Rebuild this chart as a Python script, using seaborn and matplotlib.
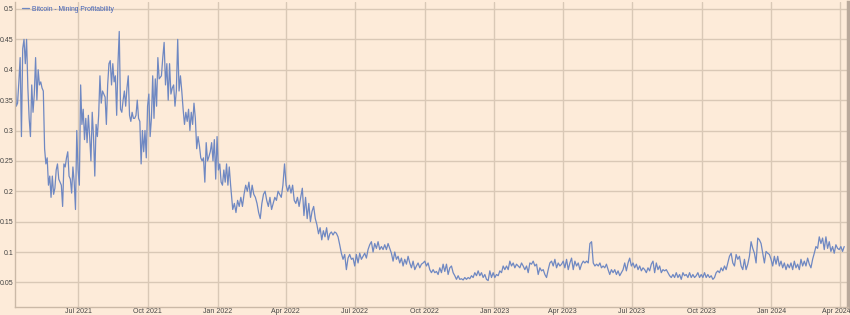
import numpy as np
import pandas as pd
import matplotlib
matplotlib.use("Agg")
import matplotlib.pyplot as plt
import matplotlib.dates as mdates
import matplotlib.transforms as mtransforms
import seaborn as sns

# ---- data: Bitcoin mining profitability ----
# each segment: values evenly spread between its start and end date
seg_a_dates = ("2021-04-09", "2021-10-16")
seg_a = [0.41, 0.34, 0.345, 0.38, 0.42, 0.29, 0.435, 0.45, 0.41, 0.45, 0.37, 0.32, 0.29,
         0.375, 0.33, 0.36, 0.42, 0.35, 0.40, 0.375, 0.38, 0.37, 0.365, 0.27, 0.245, 0.255,
         0.21, 0.225, 0.19, 0.225, 0.195, 0.205, 0.235, 0.245, 0.22, 0.215, 0.21, 0.175,
         0.245, 0.24, 0.255, 0.265, 0.225, 0.22, 0.197, 0.24, 0.215, 0.17, 0.30, 0.235,
         0.21, 0.375, 0.31, 0.335, 0.285, 0.32, 0.28, 0.325, 0.29, 0.25, 0.33, 0.29, 0.225,
         0.31, 0.29, 0.325, 0.39, 0.345, 0.365, 0.36, 0.355, 0.31, 0.375, 0.41, 0.415,
         0.375, 0.41, 0.38, 0.39, 0.325, 0.41, 0.463, 0.335, 0.33, 0.35, 0.365, 0.34, 0.37,
         0.39, 0.325, 0.315, 0.33, 0.32, 0.32, 0.325, 0.35, 0.32, 0.315, 0.245, 0.30, 0.265,
         0.30, 0.255, 0.34, 0.36, 0.29, 0.32, 0.39, 0.32, 0.385, 0.34, 0.42, 0.385]

seg_b1_dates = ("2021-10-19", "2022-01-20")
seg_b1 = [0.39, 0.42, 0.445, 0.375, 0.41, 0.35, 0.41, 0.36, 0.37, 0.375, 0.34, 0.365, 0.45,
          0.365, 0.39, 0.365, 0.335, 0.31, 0.33, 0.315, 0.335, 0.30, 0.33, 0.31, 0.345,
          0.32, 0.27, 0.29, 0.275, 0.255, 0.25, 0.255, 0.215, 0.28, 0.25, 0.257, 0.265,
          0.28, 0.25, 0.285, 0.22, 0.29, 0.235, 0.245, 0.215, 0.21, 0.235, 0.215, 0.245,
          0.21, 0.24, 0.21, 0.185]

seg_b2_dates = ("2022-01-21", "2022-05-29")
seg_b2 = [0.17, 0.18, 0.165, 0.185, 0.175, 0.19, 0.175, 0.195, 0.21, 0.20, 0.215, 0.19,
          0.21, 0.195, 0.19, 0.18, 0.165, 0.155, 0.18, 0.195, 0.20, 0.185, 0.175, 0.19,
          0.17, 0.18, 0.19, 0.185, 0.20, 0.195, 0.19, 0.21, 0.245, 0.21, 0.20, 0.21, 0.197,
          0.21, 0.185, 0.18, 0.19, 0.175, 0.19, 0.205, 0.16, 0.19, 0.155, 0.18, 0.15,
          0.167, 0.175, 0.155, 0.145, 0.13, 0.14, 0.12, 0.135, 0.125, 0.14, 0.12, 0.13]

seg_c_dates = ("2022-05-31", "2023-05-20")
seg_c = [0.133, 0.128, 0.133, 0.131, 0.125, 0.112, 0.098, 0.088, 0.096, 0.071, 0.090,
         0.096, 0.088, 0.090, 0.077, 0.096, 0.082, 0.098, 0.088, 0.093, 0.098, 0.090,
         0.104, 0.112, 0.117, 0.100, 0.114, 0.106, 0.117, 0.104, 0.109, 0.104, 0.112,
         0.104, 0.114, 0.106, 0.098, 0.085, 0.100, 0.088, 0.093, 0.082, 0.090, 0.077,
         0.088, 0.080, 0.093, 0.082, 0.074, 0.085, 0.071, 0.077, 0.082, 0.074, 0.080,
         0.082, 0.085, 0.077, 0.082, 0.071, 0.066, 0.071, 0.066, 0.068, 0.063, 0.074,
         0.066, 0.080, 0.068, 0.080, 0.063, 0.074, 0.077, 0.066, 0.061, 0.055, 0.061,
         0.055, 0.056, 0.054, 0.058, 0.055, 0.058, 0.056, 0.061, 0.058, 0.066, 0.061,
         0.069, 0.061, 0.066, 0.058, 0.063, 0.055, 0.053, 0.069, 0.058, 0.066, 0.058,
         0.063, 0.061, 0.069, 0.066, 0.077, 0.071, 0.077, 0.071, 0.085, 0.077, 0.082,
         0.074, 0.080, 0.077, 0.074, 0.082, 0.077, 0.071, 0.077, 0.066, 0.082, 0.080,
         0.085, 0.077, 0.080, 0.063, 0.074, 0.069, 0.071, 0.063, 0.058, 0.071, 0.082,
         0.085, 0.077, 0.088, 0.074, 0.082, 0.077, 0.080, 0.085, 0.074, 0.088, 0.071,
         0.082, 0.090, 0.071, 0.085, 0.077, 0.082, 0.071, 0.080, 0.085, 0.082, 0.085,
         0.082, 0.114, 0.117, 0.082, 0.077, 0.080, 0.077, 0.082]

seg_d_dates = ("2023-05-22", "2024-04-06")
seg_d = [0.074, 0.077, 0.074, 0.080, 0.071, 0.063, 0.071, 0.066, 0.071, 0.063, 0.069,
         0.061, 0.066, 0.071, 0.082, 0.069, 0.082, 0.090, 0.077, 0.082, 0.074, 0.080,
         0.071, 0.077, 0.069, 0.074, 0.071, 0.066, 0.074, 0.069, 0.080, 0.085, 0.066,
         0.082, 0.071, 0.077, 0.066, 0.071, 0.069, 0.071, 0.066, 0.061, 0.058, 0.063,
         0.058, 0.066, 0.058, 0.063, 0.055, 0.066, 0.061, 0.063, 0.058, 0.066, 0.058,
         0.063, 0.058, 0.061, 0.066, 0.058, 0.063, 0.058, 0.066, 0.058, 0.063, 0.058,
         0.061, 0.055, 0.058, 0.066, 0.069, 0.066, 0.074, 0.069, 0.077, 0.071, 0.082,
         0.093, 0.098, 0.082, 0.077, 0.096, 0.088, 0.093, 0.077, 0.071, 0.088, 0.071,
         0.080, 0.093, 0.117, 0.106, 0.098, 0.082, 0.123, 0.120, 0.114, 0.098, 0.082,
         0.101, 0.098, 0.096, 0.088, 0.077, 0.093, 0.080, 0.093, 0.077, 0.085, 0.074,
         0.082, 0.071, 0.080, 0.074, 0.082, 0.071, 0.085, 0.074, 0.080, 0.071, 0.088,
         0.077, 0.085, 0.077, 0.090, 0.080, 0.074, 0.088, 0.098, 0.109, 0.106, 0.125,
         0.114, 0.123, 0.104, 0.125, 0.106, 0.117, 0.101, 0.109, 0.098, 0.112, 0.106,
         0.104, 0.109, 0.101, 0.109]

series_label = "Bitcoin - Mining Profitability"
x_tick_dates = ["2021-07-01", "2021-10-01", "2022-01-01", "2022-04-01", "2022-07-01",
                "2022-10-01", "2023-01-01", "2023-04-01", "2023-07-01", "2023-10-01",
                "2024-01-01", "2024-04-01"]
y_ticks = [0.05, 0.1, 0.15, 0.2, 0.25, 0.3, 0.35, 0.4, 0.45, 0.5]

# ---- build frame ----
parts = []
for (d0, d1), vals in [(seg_a_dates, seg_a), (seg_b1_dates, seg_b1), (seg_b2_dates, seg_b2),
                       (seg_c_dates, seg_c), (seg_d_dates, seg_d)]:
    parts.append(pd.DataFrame({"date": pd.date_range(d0, d1, periods=len(vals)),
                               "value": vals}))
df = pd.concat(parts, ignore_index=True)

# ---- style ----
bg = "#fdebd9"
grid_c = "#d9c8b6"
line_c = "#6f88c2"

sns.set_theme(style="whitegrid")
plt.rcParams["font.family"] = ["Liberation Sans", "DejaVu Sans"]

fig = plt.figure(figsize=(8.5, 3.15), dpi=100, facecolor=bg)
ax = fig.add_axes([15 / 850, 8.3 / 315, 833 / 850, 305 / 315])
ax.set_facecolor(bg)

sns.lineplot(data=df, x="date", y="value", ax=ax, color=line_c, linewidth=0.9,
             label=series_label)

ax.set_xlim(pd.Timestamp("2021-04-09"), pd.Timestamp("2024-04-11"))
ax.set_ylim(0.01, 0.512)
ax.set_xticks(pd.to_datetime(x_tick_dates))
ax.xaxis.set_major_formatter(mdates.DateFormatter("%b %Y"))
ax.set_yticks(y_ticks)
ax.set_yticklabels([f"{v:g}" for v in y_ticks])
ax.set_xlabel("")
ax.set_ylabel("")

ax.grid(True, color=grid_c, linewidth=1.0)
ax.tick_params(axis="both", labelsize=5.0, colors="#444444", length=0, pad=1.0)
for s in ["top"]:
    ax.spines[s].set_visible(False)
for s in ["left", "bottom"]:
    ax.spines[s].set_color("#cbb9a7")
    ax.spines[s].set_linewidth(1.0)
ax.spines["right"].set_color("#b9a99b")
ax.spines["right"].set_linewidth(2.5)

# keep the last date label inside the picture
fig.canvas.draw()
last_lbl = ax.get_xticklabels()[-1]
last_lbl.set_transform(last_lbl.get_transform() +
                       mtransforms.ScaledTranslation(-4 / 100, 0, fig.dpi_scale_trans))

leg = ax.legend(loc="upper left", frameon=False, fontsize=4.9, handlelength=1.0,
                handletextpad=0.4, borderaxespad=0.2, bbox_to_anchor=(0.004, 1.0))
for t in leg.get_texts():
    t.set_color("#3f5fb5")

fig.savefig("out.png", dpi=100, facecolor=bg)
